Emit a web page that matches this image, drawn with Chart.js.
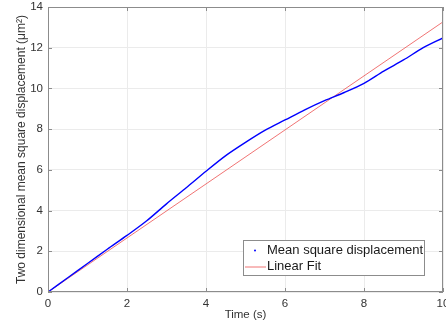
<!DOCTYPE html>
<html>
<head>
<meta charset="utf-8">
<script src="https://cdn.jsdelivr.net/npm/chart.js@4"></script>
<style>
  html, body { margin:0; padding:0; background:#fff; }
  #wrap { width:446px; height:326px; position:relative; }
</style>
</head>
<body>
<div id="wrap"><canvas id="msd"></canvas></div>
<script>
// time axis (s)
const times = [0, 0.5, 1, 1.5, 2, 2.5, 3, 3.5, 4, 4.5, 5, 5.5, 6, 6.5, 7, 7.5, 8, 8.5, 9, 9.5, 10];
// measured 2D mean square displacement (µm²)
const msd = [0, 0.70, 1.40, 2.10, 2.78, 3.50, 4.33, 5.12, 5.93, 6.70, 7.35, 7.95, 8.45, 8.95, 9.40, 9.80, 10.25, 10.85, 11.40, 12.00, 12.48];
// straight-line fit endpoints
const fitTimes = [0, 10];
const fitValues = [0, 13.27];

const xTicks = [0, 2, 4, 6, 8, 10];
const yTicks = [0, 2, 4, 6, 8, 10, 12, 14];

const AXIS = "#8c8c8c";
const TEXT = "#333333";
const FONT = "'Liberation Sans', Arial, sans-serif";

// box around the axes with inward tick marks, MATLAB style
const axesBox = {
  id: "axesBox",
  afterDatasetsDraw(chart) {
    const {ctx, chartArea: a, scales} = chart;
    ctx.save();
    ctx.strokeStyle = AXIS;
    ctx.lineWidth = 1;
    ctx.strokeRect(a.left + 0.5, a.top + 0.5, a.right - a.left - 1, a.bottom - a.top - 1);
    const t = 4;
    ctx.beginPath();
    xTicks.forEach(v => {
      const x = Math.round(scales.x.getPixelForValue(v)) + 0.5;
      ctx.moveTo(x, a.bottom); ctx.lineTo(x, a.bottom - t);
      ctx.moveTo(x, a.top); ctx.lineTo(x, a.top + t);
    });
    yTicks.forEach(v => {
      const y = Math.round(scales.y.getPixelForValue(v)) + 0.5;
      ctx.moveTo(a.left, y); ctx.lineTo(a.left + t, y);
      ctx.moveTo(a.right, y); ctx.lineTo(a.right - t, y);
    });
    ctx.stroke();
    ctx.restore();
  }
};

// legend box drawn inside the plot, lower right
const innerLegend = {
  id: "innerLegend",
  afterDraw(chart) {
    const {ctx, chartArea: a} = chart;
    const w = 181, h = 35;
    const x0 = a.right - 19 - w, y0 = a.bottom - 17 - h;
    ctx.save();
    ctx.fillStyle = "#fff";
    ctx.fillRect(x0, y0, w, h);
    ctx.strokeStyle = AXIS;
    ctx.lineWidth = 1;
    ctx.strokeRect(Math.round(x0) + 0.5, Math.round(y0) + 0.5, w, h);
    ctx.font = "13px " + FONT;
    ctx.textBaseline = "middle";
    chart.data.datasets.forEach((ds, i) => {
      const cy = y0 + 10 + i * 16.5;
      if (i === 0) {
        ctx.fillStyle = ds.borderColor;
        ctx.beginPath();
        ctx.arc(x0 + 12, cy + 0.5, 1, 0, Math.PI * 2);
        ctx.fill();
      } else {
        ctx.strokeStyle = ds.borderColor;
        ctx.beginPath();
        ctx.moveTo(x0 + 2, cy + 0.5); ctx.lineTo(x0 + 23, cy + 0.5);
        ctx.stroke();
      }
      ctx.fillStyle = "#1a1a1a";
      ctx.fillText(ds.label, x0 + 24, cy);
    });
    ctx.restore();
  }
};

new Chart(document.getElementById("msd"), {
  type: "line",
  data: {
    datasets: [
      {
        label: "Mean square displacement",
        data: times.map((t, i) => ({x: t, y: msd[i]})),
        borderColor: "#0000ff",
        borderWidth: 1.4,
        pointRadius: 0,
        tension: 0.3
      },
      {
        label: "Linear Fit",
        data: fitTimes.map((t, i) => ({x: t, y: fitValues[i]})),
        borderColor: "rgba(235,70,70,0.75)",
        borderWidth: 1,
        pointRadius: 0,
        tension: 0
      }
    ]
  },
  options: {
    responsive: true,
    maintainAspectRatio: false,
    animation: false,
    layout: {padding: {top: 7, right: 3, left: 0, bottom: 0}},
    plugins: {legend: {display: false}, tooltip: {enabled: false}},
    scales: {
      x: {
        type: "linear", min: 0, max: 10,
        afterFit(s) { s.height = 34; s.paddingLeft = 0; s.paddingRight = 0; },
        afterBuildTicks(s) { s.ticks = xTicks.map(v => ({value: v})); },
        ticks: {color: TEXT, font: {family: FONT, size: 11.5}, padding: 5, maxRotation: 0},
        grid: {color: "#ebebeb", drawTicks: false},
        border: {display: false},
        title: {display: true, text: "Time (s)", color: TEXT, font: {family: FONT, size: 11.5}, padding: {top: 0, bottom: 4}}
      },
      y: {
        type: "linear", min: 0, max: 14,
        afterFit(s) { s.width = 48; s.paddingTop = 0; s.paddingBottom = 0; },
        afterBuildTicks(s) { s.ticks = yTicks.map(v => ({value: v})); },
        ticks: {color: TEXT, font: {family: FONT, size: 11.5}, padding: 5},
        grid: {color: "#ebebeb", drawTicks: false},
        border: {display: false},
        title: {display: true, text: "Two dimensional mean square displacement (μm²)", color: TEXT, font: {family: FONT, size: 12}, padding: {top: 14, bottom: 0}}
      }
    }
  },
  plugins: [axesBox, innerLegend]
});
</script>
</body>
</html>
